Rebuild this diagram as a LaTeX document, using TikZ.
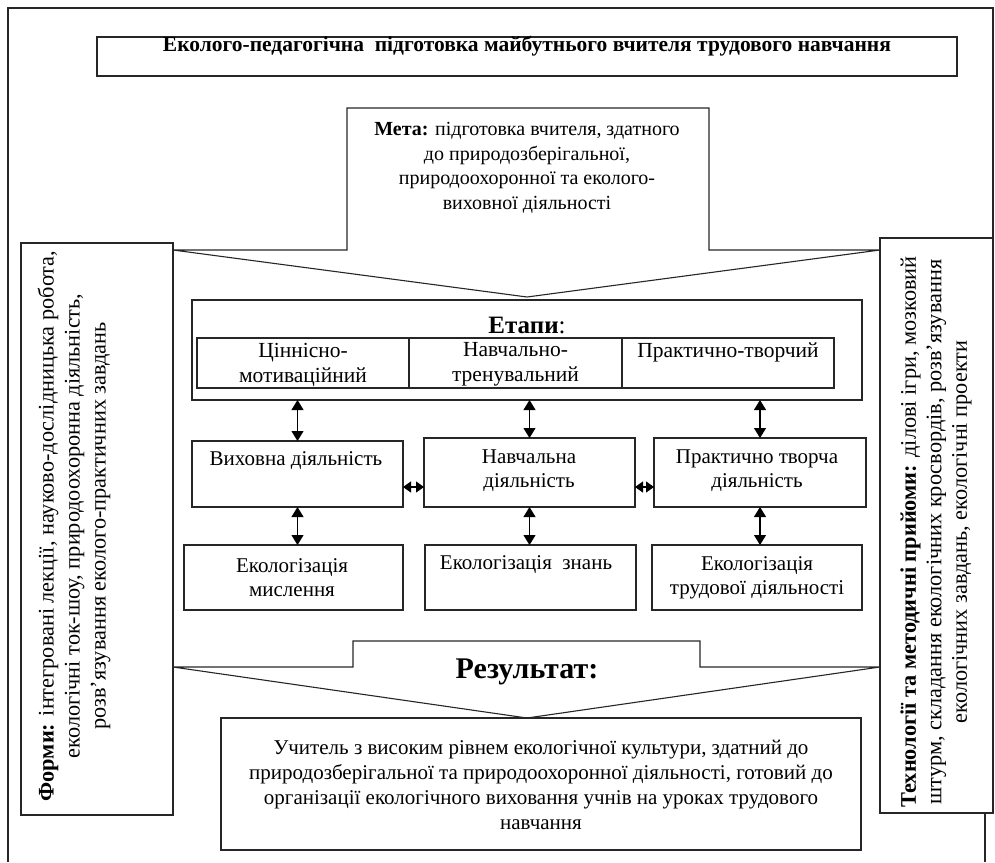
\documentclass[tikz,border=0pt]{standalone}
\usepackage{fontspec}
\setmainfont{Liberation Serif}
\usetikzlibrary{arrows.meta,calc}
\begin{document}
\begin{tikzpicture}[x=1pt,y=-1pt,
  frame/.style={draw=black!85, line width=1.1pt, line join=miter},
  bx/.style={draw=black!85, line width=1.1pt, rectangle, anchor=north west, inner sep=0pt, outer sep=0pt, fill=white},
  txt/.style={font=\fontsize{21}{24}\selectfont, align=center, inner sep=0pt},
  rtxt/.style={font=\fontsize{22.3}{26}\selectfont, align=center, inner sep=0pt, rotate=90},
  dbl/.style={{Triangle[width=12pt,length=10pt]}-{Triangle[width=12pt,length=10pt]}, line width=1.1pt, draw=black},
  dblh/.style={{Triangle[width=11pt,length=8pt]}-{Triangle[width=11pt,length=8pt]}, line width=1.1pt, draw=black},
]
\useasboundingbox (0,0) rectangle (995,862);

% outer frame
\draw[frame] (8,862) -- (8,8) -- (993,8) -- (993,238);
\draw[frame] (985,813) -- (985,862);

% title
\node[bx, minimum width=860pt, minimum height=39pt] (title) at (97,37) {};
\node[font=\bfseries\fontsize{21.5}{24}\selectfont, inner sep=0pt] (ttitle) at (527,46) {Еколого-педагогічна\ \ підготовка майбутнього вчителя трудового навчання};

% side boxes
\node[bx, minimum width=152pt, minimum height=572pt] (forms) at (21,243) {};
\node[bx, minimum width=113pt, minimum height=575pt] (tech) at (880,238) {};
\node[rtxt] (tforms) at (74,526) {\textbf{Форми:} інтегровані лекції, науково-дослідницька робота,\\ екологічні ток-шоу, природоохоронна діяльність,\\ розв’язування еколого-практичних завдань};
\node[rtxt, font=\fontsize{22.3}{25.5}\selectfont] (ttech) at (936,532) {\textbf{Технології та методичні прийоми:} ділові ігри, мозковий\\ штурм, складання екологічних кросвордів, розв’язування\\ екологічних завдань, екологічні проекти};

% goal arrow
\draw[frame] (347,108) -- (709,108) -- (709,250) -- (880,250) -- (527,297) -- (173,250) -- (347,250) -- cycle;
\node[txt, font=\fontsize{20}{24.5}\selectfont] (tgoal) at (527,168) {\textbf{Мета:} підготовка вчителя, здатного\\ до природозберігальної,\\ природоохоронної та еколого-\\ виховної діяльності};

% stages
\node[bx, minimum width=670pt, minimum height=100pt] (etapy) at (192,300) {};
\node[font=\fontsize{25}{28}\selectfont, inner sep=0pt] (tetapy) at (527,325) {\textbf{Етапи}:};
\node[bx, minimum width=212pt, minimum height=50pt] (c1) at (197,338) {};
\node[bx, minimum width=213pt, minimum height=50pt] (c2) at (409,338) {};
\node[bx, minimum width=212pt, minimum height=50pt] (c3) at (622,338) {};
\node[txt, font=\fontsize{21.5}{25}\selectfont] (tc1) at (303,364.5) {Ціннісно-\\ мотиваційний};
\node[txt, font=\fontsize{21.5}{25}\selectfont] (tc2) at (515.5,364.5) {Навчально-\\ тренувальний};
\node[txt, font=\fontsize{21.5}{25}\selectfont] (tc3) at (728,352) {Практично-творчий};

% activities
\node[bx, minimum width=211pt, minimum height=66pt] (vyk) at (192,441) {};
\node[bx, minimum width=211pt, minimum height=69pt] (nav) at (424,438) {};
\node[bx, minimum width=212pt, minimum height=69pt] (prak) at (654,438) {};
\node[txt] (tvyk) at (296,461) {Виховна діяльність};
\node[txt] (tnav) at (529,471) {Навчальна\\ діяльність};
\node[txt] (tprak) at (757,471) {Практично творча\\ діяльність};

% ecologization
\node[bx, minimum width=219pt, minimum height=65pt] (eko1) at (184,545) {};
\node[bx, minimum width=211pt, minimum height=65pt] (eko2) at (425,545) {};
\node[bx, minimum width=210pt, minimum height=65pt] (eko3) at (652,545) {};
\node[txt] (teko1) at (292,577.5) {Екологізація\\ мислення};
\node[txt] (teko2) at (526,565) {Екологізація\ \ знань};
\node[txt] (teko3) at (757,578) {Екологізація\\ трудової діяльності};

% vertical connectors
\draw[dbl] (vyk.north |- etapy.south) -- (vyk.north);
\draw[dbl] (nav.north |- etapy.south) -- (nav.north);
\draw[dbl] (prak.north |- etapy.south) -- (prak.north);
\draw[dbl] (vyk.south) -- (vyk.south |- eko1.north);
\draw[dbl] (nav.south) -- (nav.south |- eko2.north);
\draw[dbl] (prak.south) -- (prak.south |- eko3.north);

% horizontal connectors
\coordinate (h1) at ($(vyk.east)+(0,13)$);
\coordinate (h2) at ($(nav.east)+(0,14.5)$);
\draw[dblh] (h1) -- (h1 -| nav.west);
\draw[dblh] (h2) -- (h2 -| prak.west);

% result arrow
\draw[frame] (353,641) -- (700,641) -- (700,667) -- (880,667) -- (527,718) -- (173,667) -- (353,667) -- cycle;
\node[font=\bfseries\fontsize{30}{32}\selectfont, inner sep=0pt] (tres) at (527,672) {Результат:};
\node[bx, minimum width=640pt, minimum height=132pt] (res) at (221,718) {};
\node[txt, font=\fontsize{21}{25}\selectfont] (tresult) at (541,785) {Учитель з високим рівнем екологічної культури, здатний до\\ природозберігальної та природоохоронної діяльності, готовий до\\ організації екологічного виховання учнів на уроках трудового\\ навчання};
\end{tikzpicture}
\end{document}
